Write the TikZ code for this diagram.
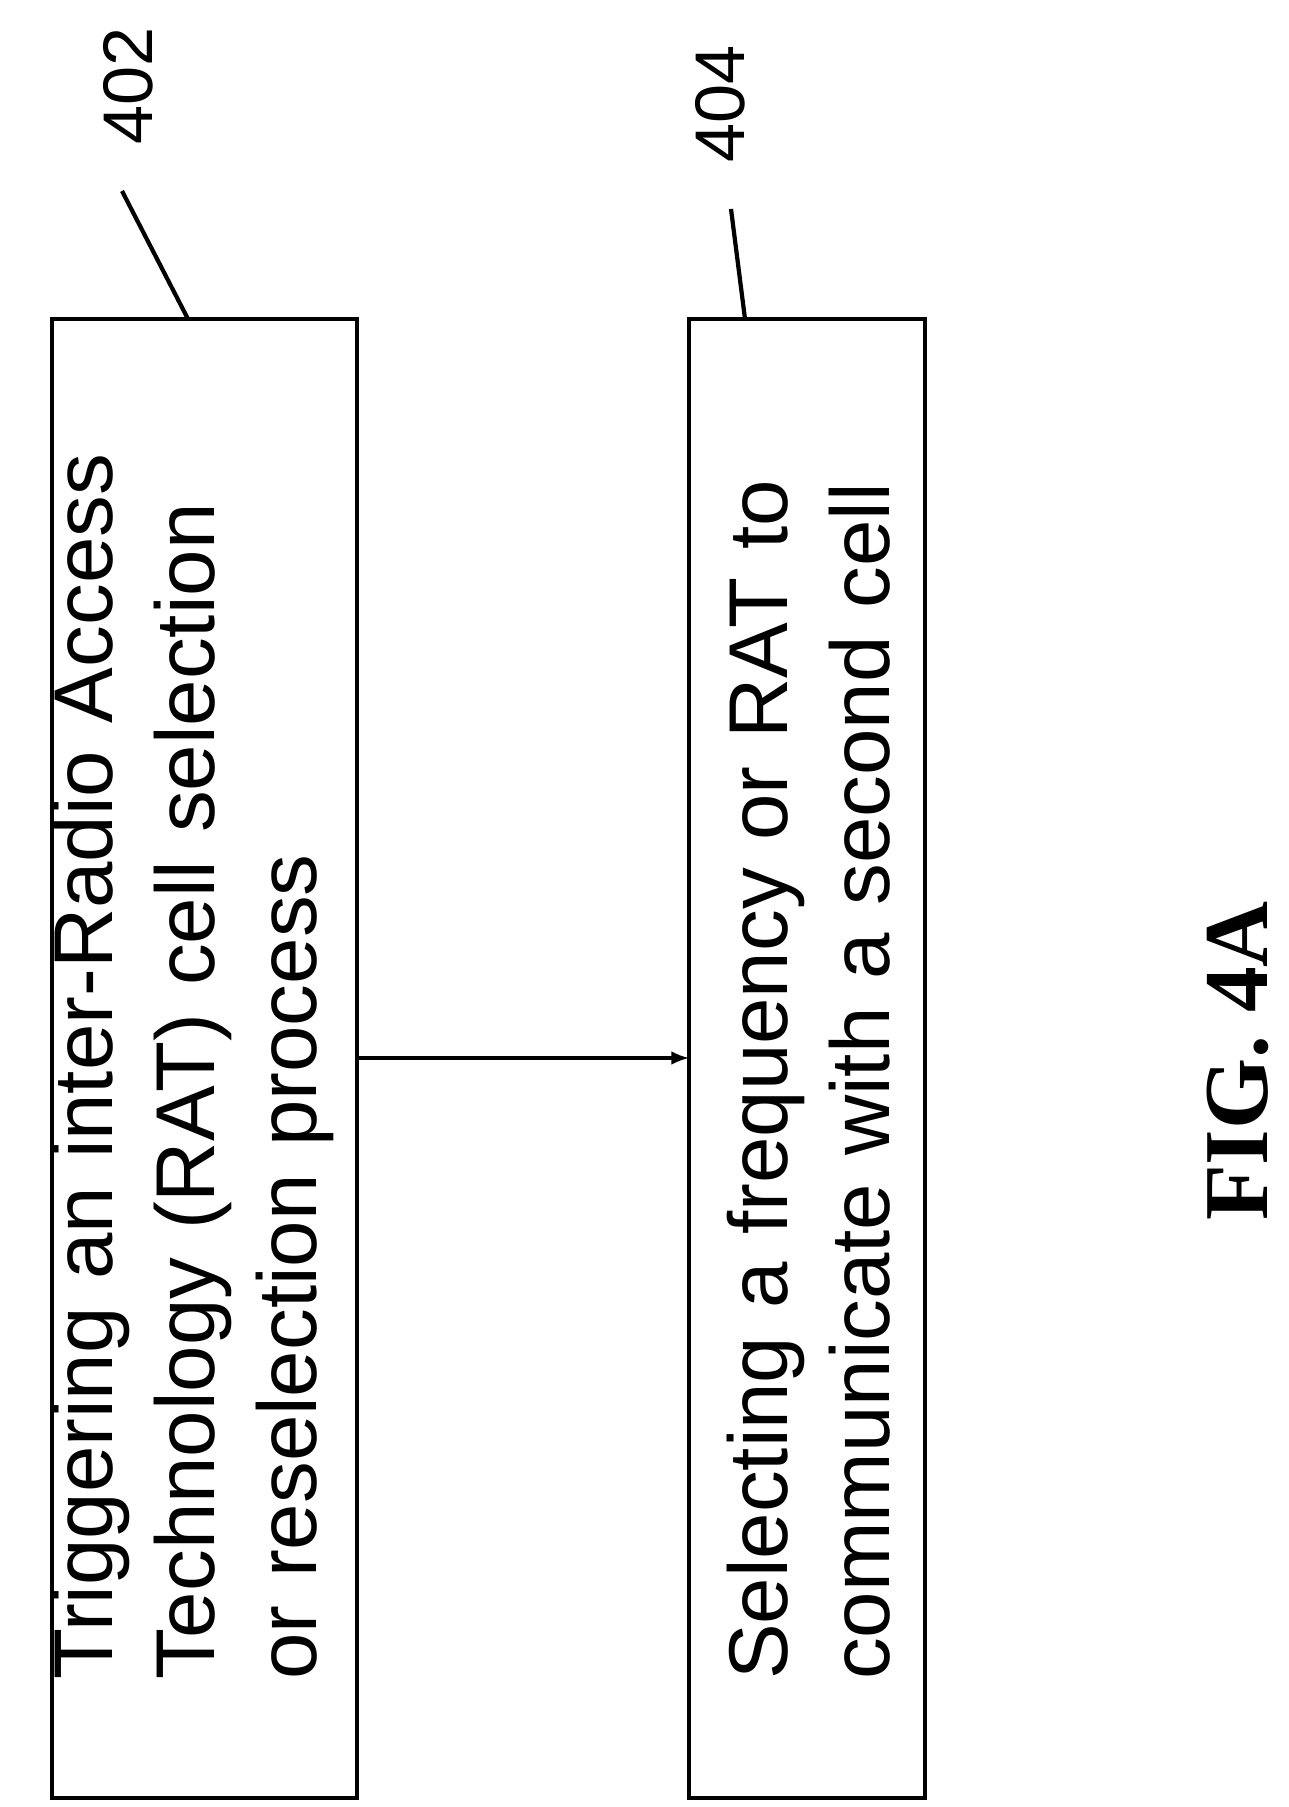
\documentclass[tikz,border=0pt]{standalone}
\usepackage{fontspec}
\setmainfont{Liberation Sans}
\newfontfamily\figfont{Liberation Serif}
\usetikzlibrary{positioning}

\begin{document}
\begin{tikzpicture}[x=0.02cm, y=-0.02cm, thick,
	box/.style = {draw, line width=2.4pt},
	stage/.style = {rotate=90, text width=25.2cm, align=left, font=\fontsize{47.5}{58}\selectfont},
	tag/.style = {rotate=90, font=\fontsize{40}{44}\selectfont}]
		\useasboundingbox (0,0) rectangle (1288,1807);
		\draw [box] (52,319) rectangle (357,1798);
		\draw [box] (689,319) rectangle (925,1798);
		\node [stage] (trigger) at (193,1050) {Triggering an inter-Radio Access Technology (RAT) cell selection or reselection process};
		\node [stage] (select) at (809,1050) {Selecting a frequency or RAT to communicate with a second cell};
		\coordinate (out) at (357,1058);
		\coordinate (in) at (689,1058);
		\draw [line width=2.4pt, -latex] (out) -- (in);
		\node [tag] (n402) at (128,86) {402};
		\node [tag] (n404) at (720,104) {404};
		\coordinate (c402) at (188,319);
		\coordinate (c404) at (745,319);
		\draw [line width=2.4pt] (122,191) -- (c402);
		\draw [line width=2.4pt] (731,209) -- (c404);
		\node [rotate=90, font=\figfont\bfseries\fontsize{52}{60}\selectfont] (fig) at (1238,1061) {FIG. 4A};
\end{tikzpicture}
\end{document}
